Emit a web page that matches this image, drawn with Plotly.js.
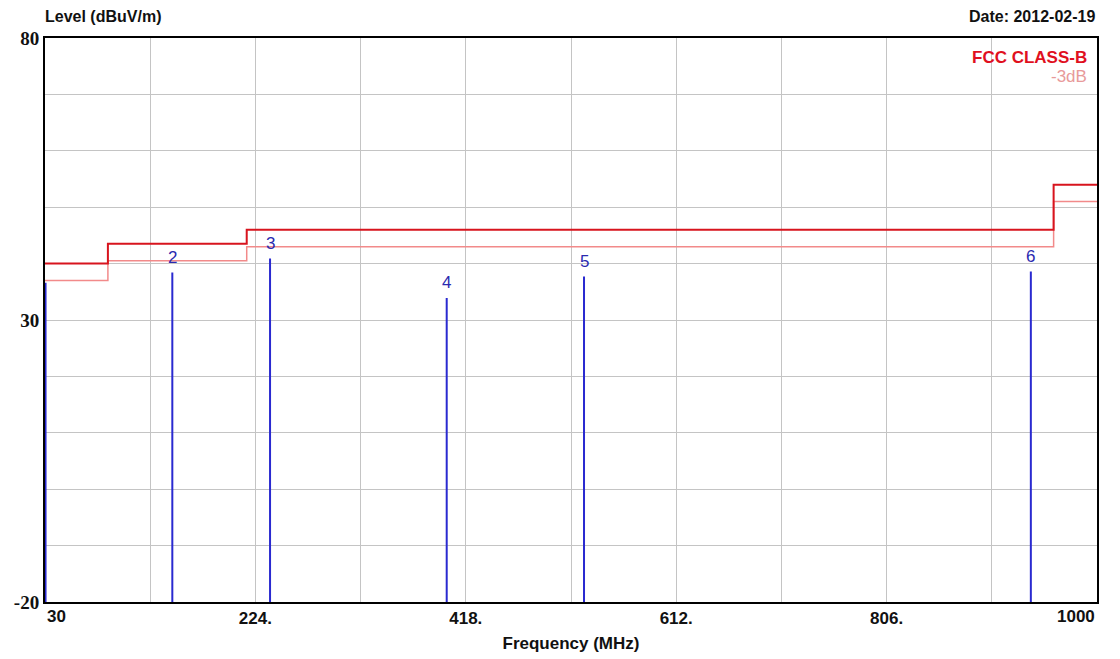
<!DOCTYPE html>
<html>
<head>
<meta charset="utf-8">
<script src="https://cdn.plot.ly/plotly-3.0.1.min.js"></script>
<style>html,body{margin:0;padding:0;background:#fff;}#chart{width:1120px;height:659px;}</style>
</head>
<body>
<div id="chart"></div>
<script>
// FCC Class-B limit (step function, 'hv')
const limitFreq = [30, 88, 216, 960, 1000];
const limitLevel = [40, 43.5, 46, 54, 54];
// -3dB margin line
const marginLevel = [37, 40.5, 43, 51, 51];
// measured peaks (markers)
const markFreq = [30.5, 147.4, 237.5, 400.4, 527.0, 939.0];
const markLevel = [36.6, 38.4, 40.9, 33.9, 37.7, 38.6];
const markLabel = ["", "2", "3", "4", "5", "6"];
// axis ticks
const xTickVals = [30, 127, 224, 321, 418, 515, 612, 709, 806, 903, 1000];
const xTickText = ["", "", "224.", "", "418.", "", "612.", "", "806.", "", ""];
const yTickVals = [-20, -10, 0, 10, 20, 30, 40, 50, 60, 70, 80];
const yTickText = ["-20", "", "", "", "", "30", "", "", "", "", "80"];

const FLOOR = -20;
const mx = [], my = [];
markFreq.forEach((f, i) => { mx.push(f, f, null); my.push(FLOOR, markLevel[i], null); });

const traces = [
  {x: mx, y: my, mode: 'lines', line: {color: '#2a2ad0', width: 2}, hoverinfo: 'skip', cliponaxis: false},
  {x: limitFreq, y: marginLevel, mode: 'lines', line: {color: '#f28a8a', width: 1.5, shape: 'hv'}},
  {x: limitFreq, y: limitLevel, mode: 'lines', line: {color: '#d8141e', width: 2, shape: 'hv'}}
];

const bold = "Arial, 'Liberation Sans', sans-serif";
const narrow = "'Liberation Sans Narrow', 'Arial Narrow', Arial, sans-serif";
const serif = "'Liberation Serif', 'Times New Roman', serif";
const b = s => s ? '<b>' + s + '</b>' : '';
const annotations = [
  {xref: 'paper', yref: 'paper', x: -0.002, y: 1.02, xanchor: 'left', yanchor: 'bottom', showarrow: false,
   text: '<b>Level (dBuV/m)</b>', font: {family: bold, size: 16, color: '#111'}},
  {xref: 'paper', yref: 'paper', x: 1.0, y: 1.02, xanchor: 'right', yanchor: 'bottom', showarrow: false,
   text: '<b>Date: 2012-02-19</b>', font: {family: bold, size: 16, color: '#111'}},
  {xref: 'paper', yref: 'paper', x: 0.992, y: 0.985, xanchor: 'right', yanchor: 'top', showarrow: false,
   text: '<b>FCC CLASS-B</b>', font: {family: bold, size: 17, color: '#e0101e'}},
  {xref: 'paper', yref: 'paper', x: 0.992, y: 0.952, xanchor: 'right', yanchor: 'top', showarrow: false,
   text: '-3dB', font: {family: bold, size: 17, color: '#e89a9a'}},
  {xref: 'x', yref: 'paper', x: 30, y: -0.005, xanchor: 'left', yanchor: 'top', showarrow: false,
   text: '<b>30</b>', font: {family: narrow, size: 17, color: '#111'}},
  {xref: 'x', yref: 'paper', x: 1000, y: -0.005, xanchor: 'right', yanchor: 'top', showarrow: false,
   text: '<b>1000</b>', font: {family: narrow, size: 17, color: '#111'}}
];
markFreq.forEach((f, i) => {
  if (markLabel[i]) annotations.push({x: f, y: markLevel[i], xref: 'x', yref: 'y', yanchor: 'bottom', yshift: 4,
    showarrow: false, text: markLabel[i], font: {family: bold, size: 17, color: '#2a2ab0'}});
});

const layout = {
  width: 1120, height: 659,
  margin: {l: 45, r: 23, t: 38, b: 57},
  paper_bgcolor: '#fff', plot_bgcolor: '#fff',
  showlegend: false,
  xaxis: {range: [30, 1000], tickmode: 'array', tickvals: xTickVals, ticktext: xTickText.map(b),
    showgrid: true, gridcolor: '#c4c4c4', gridwidth: 1, zeroline: false,
    showline: true, linecolor: '#000', linewidth: 2, mirror: true, ticks: '',
    tickfont: {family: narrow, size: 17, color: '#111'},
    title: {text: '<b>Frequency (MHz)</b>', font: {family: bold, size: 17, color: '#111'}, standoff: 10}},
  yaxis: {range: [-20, 80], tickmode: 'array', tickvals: yTickVals, ticktext: yTickText.map(b),
    showgrid: true, gridcolor: '#c4c4c4', gridwidth: 1, zeroline: false,
    showline: true, linecolor: '#000', linewidth: 2, mirror: true, ticks: '',
    tickfont: {family: serif, size: 19, color: '#111'}},
  annotations: annotations
};

Plotly.newPlot('chart', traces, layout, {displayModeBar: false, staticPlot: true});
</script>
</body>
</html>
